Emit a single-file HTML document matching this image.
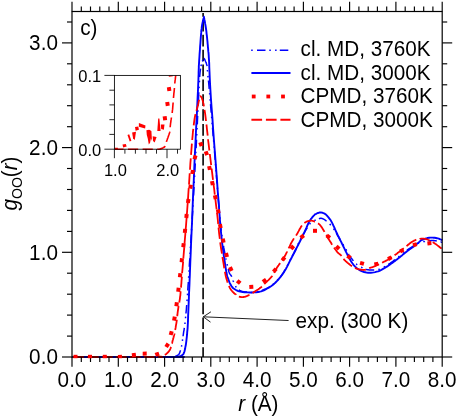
<!DOCTYPE html>
<html><head><meta charset="utf-8"><title>g_OO(r)</title>
<style>html,body{margin:0;padding:0;background:#fff;}body{width:457px;height:417px;overflow:hidden;position:relative;font-family:"Liberation Sans",sans-serif;}</style>
</head><body>
<svg width="457" height="417" viewBox="0 0 457 417" style="position:absolute;left:0;top:0;will-change:transform;opacity:0.999">
<defs><clipPath id="pc"><rect x="71.0" y="11.5" width="372.2" height="346.7"/></clipPath>
<clipPath id="ic"><rect x="114.4" y="75.4" width="66.0" height="74.8"/></clipPath></defs>
<rect width="457" height="417" fill="#fff"/>
<g clip-path="url(#pc)" fill="none" stroke-linejoin="round">
<line x1="203.1" y1="12.9" x2="203.1" y2="357.0" stroke="#000" stroke-width="1.6" stroke-dasharray="11.6 3.275" stroke-dashoffset="7.8"/>
<path d="M72.4,357.0 L79.4,357.0 M83.2,357.0 L84.7,357.0 M89.0,357.0 L90.5,357.0 M93.7,357.0 L102.2,357.0 M106.0,357.0 L106.3,357.0 L107.5,357.0 M111.8,357.0 L113.3,357.0 M116.5,357.0 L121.5,357.0 L125.0,357.0 M128.8,357.0 L130.3,357.0 M134.6,357.0 L136.1,357.0 M139.3,357.0 L147.8,357.0 M151.6,357.0 L153.1,357.0 M157.4,357.0 L158.9,357.0 M162.1,357.0 L162.6,357.0 L170.6,357.0 M174.4,357.0 L175.9,357.0 M178.4,356.9 L177.4,356.8 L176.9,356.8 M175.3,356.4 L175.3,356.4 L175.7,356.2 L176.1,356.1 L176.5,355.9 L176.8,355.7 L177.2,355.5 L177.5,355.3 L177.8,355.1 L178.1,355.0 L178.3,354.8 L178.6,354.6 L178.8,354.4 L179.0,354.1 L179.3,353.7 L179.5,353.2 L179.8,352.6 L180.0,351.8 L180.3,351.0 L180.5,350.3 M181.5,346.6 L181.6,346.0 L181.8,345.2 M182.4,340.9 L182.5,340.0 L182.6,339.4 M183.1,336.3 L183.1,336.0 L183.3,334.6 L183.5,333.2 L183.7,331.7 L184.0,330.3 L184.2,328.8 L184.3,327.9 M184.9,324.0 L185.0,323.2 L185.0,322.5 M185.5,318.2 L185.6,317.2 L185.7,316.7 M186.0,313.4 L186.0,312.8 L186.2,311.0 L186.4,309.1 L186.5,307.2 L186.7,305.3 L186.7,304.9 M187.0,301.1 L187.1,300.0 L187.1,299.6 M187.5,295.2 L187.5,294.3 L187.6,293.7 M187.8,290.5 L187.8,290.0 L187.9,288.3 L188.0,286.6 L188.1,285.0 L188.3,283.1 L188.3,282.0 M188.6,277.8 L188.7,276.3 M189.0,271.8 L189.1,270.3 M189.3,266.7 L189.4,264.4 L189.8,258.3 M190.1,254.1 L190.2,252.6 M190.4,248.1 L190.5,246.6 M190.7,243.0 L190.8,242.5 L191.3,234.5 M191.5,230.4 L191.6,228.9 M191.9,224.4 L191.9,222.9 M192.2,219.3 L192.2,217.8 L192.7,210.8 M192.9,206.7 L193.0,205.2 M193.2,200.7 L193.3,199.2 M193.5,195.6 L193.6,195.0 L194.0,187.5 L194.0,187.1 M194.2,183.0 L194.3,181.5 M194.6,176.9 L194.6,175.4 M194.8,171.9 L195.2,165.0 L195.3,163.4 M195.5,159.2 L195.6,157.8 M195.8,153.2 L195.9,151.7 M196.1,148.1 L196.4,142.1 L196.5,139.7 M196.7,135.5 L196.8,134.0 M197.0,129.5 L197.1,128.0 M197.3,124.4 L197.6,116.8 L197.7,115.9 M197.9,111.8 L197.9,110.3 M198.1,105.8 L198.2,104.3 M198.4,100.7 L198.7,95.0 L198.8,92.2 M199.0,88.1 L199.1,86.6 M199.4,82.2 L199.4,82.0 L199.5,80.9 L199.5,80.7 M199.7,77.1 L199.7,76.4 L199.8,75.2 L199.9,74.1 L200.0,73.0 L200.1,71.9 L200.3,70.8 L200.4,69.7 L200.6,68.6 M201.0,66.1 L201.1,65.6 L201.3,64.7 L201.3,64.6 M202.3,61.3 L202.4,61.1 L202.6,60.5 L202.8,60.0 L202.9,59.9 M203.8,58.4 L203.9,58.4 L204.0,58.5 L204.2,58.7 L204.4,58.9 L204.6,59.3 L204.8,59.7 L205.0,60.1 L205.2,60.6 L205.4,61.0 L205.6,61.5 L205.8,62.0 L206.0,62.4 L206.2,62.9 L206.4,63.4 L206.5,63.9 L206.7,64.5 L206.9,65.0 L207.0,65.6 L207.1,66.1 M207.4,70.0 L207.4,70.2 L207.5,70.9 L207.6,71.5 M207.9,75.9 L207.9,75.9 L208.0,76.6 L208.1,77.3 L208.1,77.3 M208.5,80.6 L208.5,81.2 L208.6,82.0 L208.7,82.5 L208.7,82.6 L208.7,82.5 L208.7,82.6 L208.7,83.1 L208.8,84.3 L209.0,86.5 L209.2,88.9 M209.6,93.1 L209.7,94.5 M210.1,99.1 L210.2,100.6 M210.5,104.1 L210.9,108.7 L211.2,112.6 M211.6,116.7 L211.6,116.8 L211.7,118.2 M212.1,122.7 L212.2,124.2 M212.5,127.8 L213.0,133.8 L213.2,136.2 M213.6,140.3 L213.7,141.8 M214.1,146.4 L214.2,147.8 M214.5,151.4 L215.0,157.7 L215.2,159.9 M215.5,164.0 L215.6,165.5 M216.0,170.0 L216.1,171.5 M216.4,175.1 L216.9,181.9 L217.0,183.5 M217.4,187.6 L217.5,189.1 M217.8,193.7 L218.0,195.2 M218.2,198.7 L218.7,203.9 L219.0,207.2 M219.3,211.3 L219.5,212.8 M219.9,217.3 L220.0,218.8 M220.3,222.3 L220.4,223.5 L220.8,226.9 L221.1,230.1 L221.2,230.8 M221.8,234.9 L222.0,236.4 M222.6,240.9 L222.9,242.3 M223.5,245.9 L223.8,247.9 L224.6,252.0 L225.0,254.2 M225.8,258.3 L226.1,259.7 M227.1,264.2 L227.4,265.6 M228.2,269.1 L228.3,269.4 L228.8,271.4 L229.3,272.8 L229.8,273.8 L230.2,274.4 L230.6,274.9 L230.9,275.4 L231.3,275.8 L231.6,276.5 L231.7,276.8 M233.1,280.6 L233.1,280.7 L233.3,281.3 L233.6,282.0 L233.6,282.0 M235.5,286.1 L235.8,286.7 L236.2,287.2 L236.3,287.4 M238.8,289.9 L239.0,290.0 L239.5,290.3 L240.0,290.6 L240.5,290.8 L241.0,291.0 L241.5,291.2 L242.1,291.4 L242.7,291.5 L243.3,291.7 L244.0,291.8 L244.8,291.9 L245.6,292.0 L246.4,292.1 L246.9,292.2 M251.0,292.4 L251.8,292.4 L252.5,292.4 M257.0,292.0 L258.0,291.7 L258.4,291.6 M261.8,290.4 L262.0,290.4 L263.5,289.8 L264.9,289.2 L266.3,288.6 L267.6,288.0 L268.8,287.4 L269.6,287.0 M272.9,284.6 L272.9,284.6 L273.6,283.9 L274.0,283.6 M277.2,280.4 L277.3,280.2 L278.1,279.4 L278.2,279.3 M280.5,276.6 L281.0,276.0 L281.6,275.2 L282.2,274.4 L282.7,273.6 L283.2,272.9 L283.7,272.1 L284.2,271.3 L284.7,270.5 L285.2,269.6 L285.2,269.5 M287.2,265.9 L287.5,265.3 L287.9,264.6 M289.9,260.6 L290.6,259.2 L290.6,259.2 M292.3,256.1 L293.1,254.5 L294.0,252.8 L294.8,251.2 L295.6,249.6 L296.1,248.5 M297.9,244.8 L298.5,243.4 M300.4,239.3 L300.8,238.6 L301.1,238.0 M302.8,234.9 L303.1,234.4 L303.9,233.1 L304.7,231.8 L305.5,230.5 L306.2,229.4 L306.9,228.3 L307.3,227.7 M309.5,224.2 L309.8,223.9 L310.2,223.5 L310.6,223.2 M314.3,220.7 L314.6,220.5 L315.2,220.2 L315.7,220.0 M318.9,218.7 L319.5,218.5 L320.0,218.4 L320.5,218.3 L320.9,218.3 L321.3,218.3 L321.6,218.4 L321.9,218.4 L322.3,218.5 L322.6,218.7 L323.0,218.8 L323.4,219.0 L323.7,219.1 L324.1,219.4 L324.5,219.6 L324.9,219.8 L325.2,220.1 L325.7,220.5 L326.1,220.8 L326.6,221.2 L326.6,221.2 M329.7,224.0 L329.8,224.1 L330.3,224.6 L330.8,225.1 L330.8,225.1 M333.6,228.7 L333.8,229.0 L334.3,229.8 L334.4,230.0 M336.3,233.1 L336.8,234.0 L337.4,235.1 L338.0,236.1 L338.5,237.0 L339.0,237.8 L339.4,238.6 L339.9,239.4 L340.3,240.1 L340.5,240.5 M342.7,244.1 L343.0,244.5 L343.5,245.3 L343.5,245.4 M346.0,249.3 L346.3,250.0 L346.7,250.6 M348.4,253.9 L348.7,254.5 L349.1,255.2 L349.5,255.8 L349.9,256.4 L350.3,257.0 L350.7,257.5 L351.1,258.0 L351.5,258.5 L352.0,259.1 L352.4,259.6 L352.9,260.2 L353.3,260.7 L353.3,260.8 M356.1,263.9 L356.3,264.0 L356.9,264.5 L357.3,264.8 M361.1,267.3 L361.2,267.3 L361.9,267.6 L362.5,268.0 M365.8,269.4 L366.0,269.4 L366.7,269.6 L367.5,269.7 L368.3,269.8 L369.1,269.9 L369.9,269.9 L370.8,269.9 L371.6,269.9 L372.4,269.9 L373.2,269.9 L373.9,269.9 L374.2,269.9 M378.3,269.6 L378.7,269.5 L379.5,269.2 L379.8,269.1 M383.8,267.1 L384.2,266.9 L385.1,266.5 L385.1,266.4 M388.2,264.6 L388.5,264.4 L389.1,263.9 L389.7,263.5 L390.3,263.1 L391.0,262.6 L391.7,262.1 L392.4,261.6 L393.2,261.0 L393.9,260.4 L394.7,259.9 L395.1,259.6 M398.3,257.1 L398.8,256.7 L399.5,256.2 L399.5,256.2 M403.0,253.4 L403.4,253.1 L404.1,252.5 L404.2,252.4 M407.0,250.2 L407.1,250.1 L407.8,249.6 L408.5,249.1 L409.3,248.6 L410.1,248.1 L410.9,247.6 L411.6,247.1 L412.4,246.7 L413.1,246.2 L413.8,245.8 L414.1,245.6 M417.7,243.5 L418.2,243.3 L418.8,243.0 L419.0,242.9 M423.4,241.8 L423.5,241.7 L424.1,241.6 L424.7,241.5 L424.9,241.4 M428.4,240.8 L428.5,240.8 L429.1,240.7 L429.6,240.7 L430.2,240.7 L430.8,240.6 L431.3,240.6 L431.9,240.6 L432.5,240.6 L433.0,240.6 L433.5,240.6 L434.0,240.6 L434.5,240.7 L434.9,240.7 L435.4,240.8 L435.9,240.8 L436.4,240.9 L436.8,241.0 M440.5,241.9 L440.6,241.9 L441.3,242.1 L441.9,242.3 L442.0,242.3" stroke="#00f" stroke-width="1.5"/>
<path d="M72.4,357.0 L84.8,357.0 L102.8,357.0 L123.8,357.0 L144.7,357.0 L162.9,357.0 L175.5,357.0 L181.8,357.0 L184.0,357.0 L183.4,356.9 L181.4,356.9 L179.3,356.8 L178.7,356.7 L179.2,356.6 L179.7,356.4 L180.2,356.3 L180.6,356.1 L181.1,355.9 L181.5,355.6 L181.9,355.3 L182.3,355.1 L182.7,354.8 L183.1,354.4 L183.5,353.9 L183.8,353.2 L184.1,352.3 L184.5,351.3 L184.8,350.1 L185.1,348.8 L185.3,347.4 L185.6,346.0 L185.9,344.5 L186.1,342.9 L186.3,341.3 L186.5,339.5 L186.7,337.8 L186.9,336.0 L187.1,334.2 L187.2,332.2 L187.4,330.3 L187.6,328.3 L187.7,326.4 L187.8,324.5 L187.9,322.8 L188.0,321.2 L188.0,319.6 L188.1,318.0 L188.1,316.3 L188.2,314.4 L188.3,312.2 L188.4,309.8 L188.5,307.2 L188.6,304.6 L188.7,302.2 L188.8,300.0 L188.9,298.2 L188.9,296.7 L189.0,295.4 L189.0,293.9 L189.1,292.2 L189.2,290.0 L189.3,287.7 L189.4,285.6 L189.5,283.1 L189.6,280.0 L189.8,275.8 L190.0,270.0 L190.3,262.3 L190.7,253.0 L191.1,242.5 L191.6,231.5 L192.1,220.5 L192.5,210.0 L192.9,200.0 L193.3,190.0 L193.8,180.0 L194.2,170.0 L194.6,160.0 L195.1,150.0 L195.6,139.5 L196.1,128.5 L196.7,117.5 L197.2,107.0 L197.6,97.7 L198.0,90.0 L198.2,84.2 L198.4,80.0 L198.5,76.9 L198.6,74.4 L198.6,72.3 L198.7,70.0 L198.8,67.9 L198.8,66.3 L198.9,65.0 L199.0,63.7 L199.1,62.1 L199.2,60.0 L199.4,57.2 L199.6,53.8 L199.9,50.2 L200.1,46.5 L200.4,43.0 L200.6,40.0 L200.8,37.4 L201.0,35.0 L201.2,32.9 L201.3,30.9 L201.6,28.9 L201.8,27.0 L202.1,25.0 L202.5,23.0 L202.9,21.1 L203.3,19.3 L203.7,17.9 L203.9,16.8 L204.1,17.9 L204.4,19.5 L204.8,21.4 L205.1,23.4 L205.5,25.5 L205.8,27.5 L206.1,29.5 L206.4,31.6 L206.6,33.8 L206.9,36.0 L207.1,38.0 L207.3,40.0 L207.5,41.8 L207.6,43.5 L207.8,45.2 L207.9,46.8 L208.1,48.4 L208.2,50.0 L208.3,51.4 L208.5,52.6 L208.6,53.8 L208.7,55.2 L208.8,57.2 L209.0,60.0 L209.2,63.5 L209.3,67.4 L209.5,71.9 L209.7,77.0 L210.0,83.0 L210.4,90.0 L210.9,98.3 L211.6,107.8 L212.4,118.1 L213.1,128.9 L213.9,139.7 L214.7,150.0 L215.5,160.3 L216.3,171.1 L217.1,181.9 L217.8,192.2 L218.6,201.7 L219.2,210.0 L219.7,216.7 L220.1,222.2 L220.5,226.9 L220.9,231.1 L221.3,235.3 L221.8,240.0 L222.4,245.2 L223.2,250.8 L223.9,256.3 L224.7,261.5 L225.4,266.2 L226.0,270.0 L226.5,272.8 L226.9,274.7 L227.2,276.0 L227.5,277.1 L227.9,278.0 L228.3,279.2 L228.8,280.5 L229.3,281.8 L229.8,283.1 L230.4,284.3 L231.0,285.3 L231.6,286.3 L232.3,287.1 L232.9,287.9 L233.7,288.5 L234.4,289.0 L235.2,289.5 L236.0,290.0 L236.8,290.4 L237.6,290.8 L238.4,291.1 L239.2,291.4 L240.2,291.6 L241.4,291.8 L242.8,292.0 L244.4,292.2 L246.1,292.3 L247.8,292.4 L249.6,292.5 L251.3,292.5 L253.0,292.4 L254.7,292.3 L256.3,292.2 L258.0,292.0 L259.6,291.7 L261.1,291.3 L262.5,290.8 L263.9,290.3 L265.2,289.7 L266.4,289.0 L267.6,288.3 L268.8,287.6 L269.9,286.9 L271.0,286.2 L272.0,285.5 L273.0,284.7 L274.0,283.9 L275.0,283.0 L276.0,282.0 L277.1,280.9 L278.1,279.8 L279.1,278.6 L280.1,277.4 L281.0,276.3 L281.8,275.2 L282.5,274.2 L283.2,273.2 L283.9,272.2 L284.5,271.1 L285.2,270.0 L285.9,268.9 L286.5,267.7 L287.1,266.6 L287.7,265.3 L288.4,264.0 L289.2,262.4 L290.1,260.6 L291.2,258.5 L292.3,256.3 L293.5,254.1 L294.6,252.0 L295.6,250.0 L296.5,248.2 L297.4,246.4 L298.3,244.7 L299.1,243.0 L299.9,241.5 L300.6,240.0 L301.3,238.7 L301.9,237.5 L302.4,236.5 L303.0,235.4 L303.5,234.2 L304.2,232.8 L304.9,231.1 L305.7,229.3 L306.6,227.3 L307.4,225.4 L308.3,223.5 L309.1,221.9 L309.9,220.5 L310.8,219.2 L311.7,218.1 L312.5,217.0 L313.3,216.1 L314.1,215.3 L314.8,214.6 L315.5,214.1 L316.2,213.8 L316.8,213.5 L317.4,213.2 L318.0,213.0 L318.6,212.8 L319.1,212.6 L319.6,212.5 L320.2,212.5 L320.7,212.5 L321.2,212.5 L321.8,212.6 L322.3,212.7 L322.9,212.9 L323.4,213.1 L324.0,213.3 L324.5,213.6 L325.0,213.9 L325.4,214.1 L325.8,214.4 L326.2,214.8 L326.7,215.3 L327.2,215.9 L327.8,216.6 L328.5,217.4 L329.2,218.3 L330.0,219.3 L330.8,220.5 L331.6,221.9 L332.5,223.6 L333.4,225.6 L334.4,227.7 L335.3,229.8 L336.2,231.8 L337.0,233.5 L337.6,234.8 L338.1,235.9 L338.6,236.7 L339.0,237.6 L339.5,238.5 L340.0,239.6 L340.6,240.8 L341.3,242.2 L341.9,243.5 L342.7,245.0 L343.4,246.5 L344.2,248.1 L345.0,249.8 L345.9,251.7 L346.9,253.7 L347.8,255.6 L348.8,257.4 L349.7,259.1 L350.6,260.6 L351.5,262.0 L352.4,263.3 L353.3,264.5 L354.2,265.7 L355.2,266.7 L356.2,267.6 L357.2,268.5 L358.3,269.3 L359.4,270.0 L360.5,270.6 L361.7,271.1 L362.9,271.6 L364.1,272.0 L365.4,272.3 L366.7,272.6 L368.0,272.7 L369.4,272.8 L370.8,272.8 L372.3,272.6 L373.7,272.4 L375.2,272.1 L376.7,271.7 L378.1,271.3 L379.5,270.8 L380.9,270.1 L382.2,269.4 L383.5,268.6 L384.8,267.9 L385.9,267.2 L386.9,266.6 L387.8,266.1 L388.6,265.5 L389.3,265.0 L390.1,264.4 L391.0,263.8 L391.9,263.1 L392.9,262.4 L393.9,261.6 L395.0,260.9 L396.0,260.1 L396.9,259.4 L397.8,258.7 L398.6,258.1 L399.5,257.4 L400.3,256.8 L401.1,256.1 L402.0,255.4 L402.9,254.6 L403.9,253.8 L404.8,253.0 L405.8,252.2 L406.8,251.4 L407.8,250.6 L408.8,249.9 L409.8,249.1 L410.9,248.4 L411.9,247.8 L412.9,247.1 L413.8,246.4 L414.7,245.7 L415.6,245.0 L416.5,244.3 L417.3,243.6 L418.1,243.0 L418.8,242.4 L419.3,241.9 L419.7,241.5 L420.1,241.2 L420.4,240.9 L420.8,240.5 L421.4,240.2 L422.2,239.8 L423.0,239.5 L424.0,239.1 L425.0,238.8 L426.0,238.4 L426.9,238.2 L427.7,238.0 L428.5,237.8 L429.3,237.7 L430.1,237.6 L430.9,237.6 L431.8,237.6 L432.8,237.6 L433.8,237.7 L434.8,237.8 L435.9,238.0 L436.9,238.2 L437.8,238.4 L438.7,238.7 L439.6,239.0 L440.4,239.4 L441.2,239.7 L441.8,240.0 L442.3,240.2" stroke="#00f" stroke-width="1.9" stroke-linejoin="round"/>
<path d="M72.9,357.0 L79.3,357.0 L83.9,357.0 M87.4,357.0 L89.1,357.0 L98.7,357.0 M102.2,357.0 L112.7,357.0 M116.2,357.0 L126.2,357.0 L126.6,357.0 M130.1,357.0 L137.9,357.0 L140.5,357.0 M144.0,357.0 L147.9,357.0 L154.4,357.0 M157.9,357.0 L159.3,357.0 L161.5,357.0 L162.3,357.0 L162.0,356.9 L161.0,356.9 L159.9,356.9 L159.1,356.8 L159.0,356.8 L159.4,356.7 L159.8,356.7 L160.2,356.6 L160.6,356.6 L160.9,356.5 L161.3,356.4 L161.6,356.3 M164.8,354.9 L165.0,354.8 L165.4,354.5 L165.8,354.3 L166.2,354.0 L166.6,353.6 L166.9,353.3 L167.3,353.0 L167.7,352.6 L168.0,352.3 L168.3,352.0 L168.6,351.7 L168.8,351.4 L169.1,351.1 L169.3,350.7 L169.6,350.4 L169.8,350.0 L170.0,349.6 L170.2,349.2 L170.4,348.8 L170.5,348.4 L170.7,348.0 L170.8,347.5 L171.0,346.9 L171.0,346.9 M171.9,343.5 L172.0,343.4 L172.3,342.2 L172.6,340.8 L173.0,339.5 L173.3,338.3 L173.6,337.2 L173.8,336.3 L174.0,335.7 L174.1,335.3 L174.2,335.0 L174.2,334.8 L174.3,334.6 L174.4,334.3 L174.5,333.9 L174.5,333.5 M175.2,330.0 L175.3,329.4 L175.6,327.9 L175.8,326.3 L176.1,324.7 L176.4,323.1 L176.6,321.6 L176.8,320.1 L176.8,319.8 M177.3,316.3 L177.3,315.7 L177.5,314.2 L177.6,312.8 L177.8,311.4 L178.0,310.0 L178.2,308.7 L178.4,307.4 L178.6,306.1 L178.7,306.0 M179.3,302.5 L179.3,302.5 L179.5,301.2 L179.7,300.0 L179.9,298.8 L180.0,297.7 L180.1,296.7 L180.3,295.6 L180.4,294.5 L180.5,293.2 L180.6,291.7 L180.7,291.2 M181.0,287.7 L181.1,286.6 L181.2,285.0 L181.4,283.1 L181.5,280.9 L181.8,278.0 L181.9,276.7 M182.1,273.2 L182.4,270.0 L182.9,264.4 L183.1,262.0 M183.3,258.5 L183.4,257.8 L184.0,250.4 L184.3,247.1 M184.5,243.7 L184.6,242.5 L185.3,234.3 L185.4,232.6 M185.7,229.1 L186.0,225.9 L186.6,217.8 L186.6,217.5 M186.9,214.0 L187.2,210.0 L187.7,202.9 M188.0,199.4 L188.3,194.3 L188.7,188.1 M189.0,184.6 L189.4,178.1 L189.7,173.3 M190.0,169.8 L190.4,162.9 L190.8,158.4 M191.0,154.9 L191.4,150.0 L191.8,144.7 L191.9,143.6 M192.2,140.1 L192.2,140.0 L192.6,135.9 L192.9,132.2 L193.3,128.8 L193.3,128.8 M193.7,125.3 L194.0,122.8 L194.4,120.0 L194.8,117.4 L195.3,115.0 L195.5,114.1 M196.4,110.7 L196.8,109.4 L197.2,107.8 L197.6,106.4 L198.0,105.0 L198.3,103.7 L198.5,102.6 L198.7,101.6 L198.9,100.7 L199.1,99.9 L199.1,99.7 M200.0,96.3 L200.1,96.2 L200.2,96.2 L200.3,96.2 L200.5,96.3 L200.7,96.4 L200.9,96.6 L201.1,96.8 L201.3,97.1 L201.6,97.5 L201.8,98.0 L202.0,98.5 L202.2,99.1 L202.4,99.6 L202.6,100.3 L202.8,101.0 L203.0,101.8 L203.2,102.7 L203.5,103.8 L203.7,105.0 L203.9,106.3 M204.5,109.8 L204.7,111.0 L205.0,112.9 L205.3,115.0 L205.6,117.3 L205.9,120.0 L206.0,121.0 M206.4,124.5 L206.6,125.7 L206.9,128.8 L207.3,132.2 L207.7,135.7 M208.1,139.2 L208.1,140.0 L208.7,144.7 L209.3,150.0 L209.4,150.5 M209.8,154.0 L210.1,156.3 L211.0,163.6 L211.2,165.2 M211.6,168.7 L212.0,171.6 L213.0,179.9 M213.4,183.4 L214.1,188.4 L214.8,194.7 M215.3,198.1 L215.9,203.7 L216.6,209.4 M217.0,212.9 L217.3,215.2 L217.8,219.6 L218.1,223.4 L218.2,224.1 M218.5,227.6 L218.8,230.1 L219.1,233.2 L219.5,236.5 L219.8,238.9 M220.2,242.4 L220.4,243.9 L221.0,248.0 L221.7,252.2 L221.9,253.6 M222.4,257.0 L223.0,260.3 L223.6,263.9 L224.1,267.2 L224.3,268.2 M224.9,271.7 L225.0,272.2 L225.3,273.9 L225.6,275.2 L225.8,276.2 L226.0,277.0 L226.2,277.8 L226.4,278.6 L226.7,279.5 L227.0,280.5 L227.3,281.6 L227.7,282.6 L227.7,282.6 M229.0,285.9 L229.1,286.1 L229.4,286.9 L229.7,287.6 L230.0,288.2 L230.3,288.7 L230.7,289.2 L231.0,289.7 L231.3,290.1 L231.6,290.5 L232.0,291.0 L232.4,291.5 L232.8,291.9 L233.2,292.3 L233.6,292.8 L234.1,293.2 L234.5,293.6 L235.0,293.9 L235.4,294.3 L235.9,294.6 L235.9,294.7 M238.9,296.5 L239.2,296.6 L239.7,296.8 L240.2,296.9 L240.8,297.0 L241.3,297.1 L241.9,297.1 L242.5,297.1 L243.0,297.1 L243.6,297.0 L244.2,296.9 L244.8,296.8 L245.4,296.6 L246.0,296.4 L246.6,296.1 L247.3,295.9 L247.9,295.6 L248.5,295.3 L249.1,295.0 L249.5,294.8 M252.5,293.0 L252.7,292.9 L253.4,292.4 L254.3,291.9 L255.2,291.2 L256.2,290.6 L257.3,289.9 L258.4,289.2 L259.4,288.5 L260.3,287.8 L261.1,287.2 L261.7,286.7 L261.9,286.5 M264.3,284.0 L264.4,283.9 L265.0,283.3 L265.7,282.6 L266.6,281.8 L267.5,280.9 L268.4,280.1 L269.4,279.1 L270.3,278.2 L271.2,277.2 L272.0,276.2 L272.3,275.8 M274.1,272.8 L274.5,272.0 L275.1,270.9 L275.7,269.8 L276.3,268.7 L277.0,267.5 L277.8,266.4 L278.6,265.3 L279.4,264.1 L280.2,263.2 M282.2,260.4 L283.1,259.1 L284.0,257.6 L285.0,255.8 L286.0,253.8 L287.1,251.7 L287.1,251.5 M288.6,248.4 L289.2,247.3 L290.2,245.2 L291.1,243.2 L292.0,241.6 L292.8,240.3 L293.5,239.1 L293.9,238.4 M295.9,235.6 L296.4,234.9 L297.0,234.0 L297.6,233.0 L298.2,231.9 L298.8,230.9 L299.3,229.8 L299.9,228.7 L300.5,227.7 L301.0,226.8 L301.6,226.0 L302.0,225.5 M304.4,223.0 L304.8,222.7 L305.4,222.3 L306.0,222.0 L306.6,221.7 L307.3,221.4 L307.9,221.2 L308.6,221.0 L309.2,220.9 L309.9,220.8 L310.6,220.7 L311.2,220.7 L311.8,220.7 L312.4,220.8 L313.0,221.0 L313.6,221.2 L314.2,221.4 L314.8,221.7 L314.9,221.7 M318.0,223.4 L318.2,223.5 L318.8,223.9 L319.4,224.4 L320.1,225.1 L320.8,226.0 L321.6,227.1 L322.5,228.5 L323.4,230.1 L324.4,231.7 L324.5,231.9 M326.2,235.0 L326.3,235.1 L327.2,236.6 L328.0,238.0 L328.7,239.2 L329.4,240.3 L330.1,241.4 L330.7,242.3 L331.3,243.3 L331.8,244.2 L332.2,244.7 M334.1,247.6 L334.2,247.8 L334.8,248.7 L335.4,249.5 L336.0,250.3 L336.6,251.1 L337.1,251.8 L337.6,252.4 L338.1,252.9 L338.5,253.3 L338.9,253.6 L339.3,253.9 L339.7,254.2 L340.1,254.5 L340.5,254.8 L340.9,255.2 L341.3,255.7 L341.5,256.0 M343.6,258.8 L343.8,259.1 L344.2,259.6 L344.6,260.1 L345.1,260.5 L345.5,261.0 L345.9,261.4 L346.4,261.8 L346.9,262.2 L347.3,262.6 L347.8,263.0 L348.3,263.4 L348.8,263.8 L349.3,264.2 L349.8,264.7 L350.4,265.1 L350.9,265.5 L351.4,265.8 L352.0,266.2 M355.0,267.9 L355.5,268.1 L356.1,268.4 L356.7,268.6 L357.3,268.8 L357.8,269.0 L358.4,269.2 L358.9,269.3 L359.4,269.4 L360.0,269.5 L360.5,269.6 L361.0,269.7 L361.5,269.8 L362.0,269.8 L362.5,269.9 L363.0,269.9 L363.4,270.0 L363.9,269.9 L364.5,269.9 L365.0,269.8 L365.6,269.7 L365.9,269.5 M369.2,268.2 L369.4,268.1 L370.0,267.9 L370.6,267.7 L371.2,267.5 L371.8,267.3 L372.4,267.1 L373.1,266.9 L373.7,266.7 L374.3,266.5 L375.0,266.2 L375.7,265.9 L376.4,265.5 L377.2,265.2 L377.9,264.8 L378.7,264.4 L379.0,264.2 M382.1,262.7 L382.5,262.5 L383.2,262.1 L384.0,261.7 L384.8,261.4 L385.5,261.0 L386.2,260.6 L387.0,260.2 L387.8,259.8 L388.5,259.3 L389.2,258.9 L390.0,258.4 L390.8,257.9 L391.5,257.4 L391.8,257.2 M394.6,255.3 L395.2,254.8 L396.0,254.3 L396.8,253.7 L397.5,253.1 L398.2,252.6 L399.0,252.0 L399.8,251.4 L400.5,250.8 L401.2,250.3 L402.0,249.7 L402.8,249.1 L403.5,248.5 L403.8,248.3 M406.5,246.1 L406.5,246.1 L407.3,245.5 L408.1,244.8 L408.8,244.2 L409.6,243.6 L410.3,243.1 L411.0,242.6 L411.7,242.1 L412.3,241.7 L412.9,241.3 L413.6,241.0 L414.2,240.6 L414.8,240.3 L415.4,240.1 L416.0,239.8 L416.3,239.7 M419.7,238.9 L419.8,238.8 L420.4,238.8 L421.0,238.7 L421.6,238.7 L422.1,238.6 L422.6,238.6 L423.2,238.6 L423.7,238.7 L424.2,238.7 L424.7,238.8 L425.3,238.9 L425.9,239.0 L426.4,239.2 L427.0,239.3 L427.5,239.5 L428.1,239.8 L428.7,240.0 L429.3,240.3 L429.6,240.4 M432.7,242.1 L432.9,242.2 L433.7,242.7 L434.4,243.2 L435.2,243.8 L436.0,244.3 L436.8,244.9 L437.7,245.6 L438.6,246.3 L439.5,247.0 L440.4,247.7 L441.2,248.3 L441.6,248.6" stroke="#f00" stroke-width="1.8"/>
</g>
<g stroke="#000" stroke-width="1.2" fill="none">
<rect x="72.0" y="11.5" width="370.2" height="345.5"/>
</g>
<g stroke="#000" stroke-width="1.15" fill="none">
<line x1="72.0" y1="357.0" x2="72.0" y2="366.8"/>
<line x1="72.0" y1="11.5" x2="72.0" y2="1.7"/>
<line x1="81.3" y1="357.0" x2="81.3" y2="362.0"/>
<line x1="81.3" y1="11.5" x2="81.3" y2="6.5"/>
<line x1="90.5" y1="357.0" x2="90.5" y2="362.0"/>
<line x1="90.5" y1="11.5" x2="90.5" y2="6.5"/>
<line x1="99.8" y1="357.0" x2="99.8" y2="362.0"/>
<line x1="99.8" y1="11.5" x2="99.8" y2="6.5"/>
<line x1="109.0" y1="357.0" x2="109.0" y2="362.0"/>
<line x1="109.0" y1="11.5" x2="109.0" y2="6.5"/>
<line x1="118.3" y1="357.0" x2="118.3" y2="366.8"/>
<line x1="118.3" y1="11.5" x2="118.3" y2="1.7"/>
<line x1="127.5" y1="357.0" x2="127.5" y2="362.0"/>
<line x1="127.5" y1="11.5" x2="127.5" y2="6.5"/>
<line x1="136.8" y1="357.0" x2="136.8" y2="362.0"/>
<line x1="136.8" y1="11.5" x2="136.8" y2="6.5"/>
<line x1="146.0" y1="357.0" x2="146.0" y2="362.0"/>
<line x1="146.0" y1="11.5" x2="146.0" y2="6.5"/>
<line x1="155.3" y1="357.0" x2="155.3" y2="362.0"/>
<line x1="155.3" y1="11.5" x2="155.3" y2="6.5"/>
<line x1="164.6" y1="357.0" x2="164.6" y2="366.8"/>
<line x1="164.6" y1="11.5" x2="164.6" y2="1.7"/>
<line x1="173.8" y1="357.0" x2="173.8" y2="362.0"/>
<line x1="173.8" y1="11.5" x2="173.8" y2="6.5"/>
<line x1="183.1" y1="357.0" x2="183.1" y2="362.0"/>
<line x1="183.1" y1="11.5" x2="183.1" y2="6.5"/>
<line x1="192.3" y1="357.0" x2="192.3" y2="362.0"/>
<line x1="192.3" y1="11.5" x2="192.3" y2="6.5"/>
<line x1="201.6" y1="357.0" x2="201.6" y2="362.0"/>
<line x1="201.6" y1="11.5" x2="201.6" y2="6.5"/>
<line x1="210.8" y1="357.0" x2="210.8" y2="366.8"/>
<line x1="210.8" y1="11.5" x2="210.8" y2="1.7"/>
<line x1="220.1" y1="357.0" x2="220.1" y2="362.0"/>
<line x1="220.1" y1="11.5" x2="220.1" y2="6.5"/>
<line x1="229.3" y1="357.0" x2="229.3" y2="362.0"/>
<line x1="229.3" y1="11.5" x2="229.3" y2="6.5"/>
<line x1="238.6" y1="357.0" x2="238.6" y2="362.0"/>
<line x1="238.6" y1="11.5" x2="238.6" y2="6.5"/>
<line x1="247.8" y1="357.0" x2="247.8" y2="362.0"/>
<line x1="247.8" y1="11.5" x2="247.8" y2="6.5"/>
<line x1="257.1" y1="357.0" x2="257.1" y2="366.8"/>
<line x1="257.1" y1="11.5" x2="257.1" y2="1.7"/>
<line x1="266.4" y1="357.0" x2="266.4" y2="362.0"/>
<line x1="266.4" y1="11.5" x2="266.4" y2="6.5"/>
<line x1="275.6" y1="357.0" x2="275.6" y2="362.0"/>
<line x1="275.6" y1="11.5" x2="275.6" y2="6.5"/>
<line x1="284.9" y1="357.0" x2="284.9" y2="362.0"/>
<line x1="284.9" y1="11.5" x2="284.9" y2="6.5"/>
<line x1="294.1" y1="357.0" x2="294.1" y2="362.0"/>
<line x1="294.1" y1="11.5" x2="294.1" y2="6.5"/>
<line x1="303.4" y1="357.0" x2="303.4" y2="366.8"/>
<line x1="303.4" y1="11.5" x2="303.4" y2="1.7"/>
<line x1="312.6" y1="357.0" x2="312.6" y2="362.0"/>
<line x1="312.6" y1="11.5" x2="312.6" y2="6.5"/>
<line x1="321.9" y1="357.0" x2="321.9" y2="362.0"/>
<line x1="321.9" y1="11.5" x2="321.9" y2="6.5"/>
<line x1="331.1" y1="357.0" x2="331.1" y2="362.0"/>
<line x1="331.1" y1="11.5" x2="331.1" y2="6.5"/>
<line x1="340.4" y1="357.0" x2="340.4" y2="362.0"/>
<line x1="340.4" y1="11.5" x2="340.4" y2="6.5"/>
<line x1="349.6" y1="357.0" x2="349.6" y2="366.8"/>
<line x1="349.6" y1="11.5" x2="349.6" y2="1.7"/>
<line x1="358.9" y1="357.0" x2="358.9" y2="362.0"/>
<line x1="358.9" y1="11.5" x2="358.9" y2="6.5"/>
<line x1="368.2" y1="357.0" x2="368.2" y2="362.0"/>
<line x1="368.2" y1="11.5" x2="368.2" y2="6.5"/>
<line x1="377.4" y1="357.0" x2="377.4" y2="362.0"/>
<line x1="377.4" y1="11.5" x2="377.4" y2="6.5"/>
<line x1="386.7" y1="357.0" x2="386.7" y2="362.0"/>
<line x1="386.7" y1="11.5" x2="386.7" y2="6.5"/>
<line x1="395.9" y1="357.0" x2="395.9" y2="366.8"/>
<line x1="395.9" y1="11.5" x2="395.9" y2="1.7"/>
<line x1="405.2" y1="357.0" x2="405.2" y2="362.0"/>
<line x1="405.2" y1="11.5" x2="405.2" y2="6.5"/>
<line x1="414.4" y1="357.0" x2="414.4" y2="362.0"/>
<line x1="414.4" y1="11.5" x2="414.4" y2="6.5"/>
<line x1="423.7" y1="357.0" x2="423.7" y2="362.0"/>
<line x1="423.7" y1="11.5" x2="423.7" y2="6.5"/>
<line x1="432.9" y1="357.0" x2="432.9" y2="362.0"/>
<line x1="432.9" y1="11.5" x2="432.9" y2="6.5"/>
<line x1="442.2" y1="357.0" x2="442.2" y2="366.8"/>
<line x1="442.2" y1="11.5" x2="442.2" y2="1.7"/>
<line x1="72.0" y1="357.0" x2="62.0" y2="357.0"/>
<line x1="442.2" y1="357.0" x2="452.2" y2="357.0"/>
<line x1="72.0" y1="336.1" x2="67.0" y2="336.1"/>
<line x1="442.2" y1="336.1" x2="447.2" y2="336.1"/>
<line x1="72.0" y1="315.1" x2="67.0" y2="315.1"/>
<line x1="442.2" y1="315.1" x2="447.2" y2="315.1"/>
<line x1="72.0" y1="294.2" x2="67.0" y2="294.2"/>
<line x1="442.2" y1="294.2" x2="447.2" y2="294.2"/>
<line x1="72.0" y1="273.2" x2="67.0" y2="273.2"/>
<line x1="442.2" y1="273.2" x2="447.2" y2="273.2"/>
<line x1="72.0" y1="252.3" x2="62.0" y2="252.3"/>
<line x1="442.2" y1="252.3" x2="452.2" y2="252.3"/>
<line x1="72.0" y1="231.4" x2="67.0" y2="231.4"/>
<line x1="442.2" y1="231.4" x2="447.2" y2="231.4"/>
<line x1="72.0" y1="210.4" x2="67.0" y2="210.4"/>
<line x1="442.2" y1="210.4" x2="447.2" y2="210.4"/>
<line x1="72.0" y1="189.5" x2="67.0" y2="189.5"/>
<line x1="442.2" y1="189.5" x2="447.2" y2="189.5"/>
<line x1="72.0" y1="168.5" x2="67.0" y2="168.5"/>
<line x1="442.2" y1="168.5" x2="447.2" y2="168.5"/>
<line x1="72.0" y1="147.6" x2="62.0" y2="147.6"/>
<line x1="442.2" y1="147.6" x2="452.2" y2="147.6"/>
<line x1="72.0" y1="126.7" x2="67.0" y2="126.7"/>
<line x1="442.2" y1="126.7" x2="447.2" y2="126.7"/>
<line x1="72.0" y1="105.7" x2="67.0" y2="105.7"/>
<line x1="442.2" y1="105.7" x2="447.2" y2="105.7"/>
<line x1="72.0" y1="84.8" x2="67.0" y2="84.8"/>
<line x1="442.2" y1="84.8" x2="447.2" y2="84.8"/>
<line x1="72.0" y1="63.8" x2="67.0" y2="63.8"/>
<line x1="442.2" y1="63.8" x2="447.2" y2="63.8"/>
<line x1="72.0" y1="42.9" x2="62.0" y2="42.9"/>
<line x1="442.2" y1="42.9" x2="452.2" y2="42.9"/>
<line x1="72.0" y1="22.0" x2="67.0" y2="22.0"/>
<line x1="442.2" y1="22.0" x2="447.2" y2="22.0"/>
</g>
<g fill="#f00" clip-path="url(#pc)"><rect x="73.5" y="354.8" width="4.0" height="4.0" transform="rotate(0 75.5 356.8)"/>
<rect x="88.0" y="354.8" width="4.0" height="4.0" transform="rotate(0 90.0 356.8)"/>
<rect x="102.8" y="354.8" width="4.0" height="4.0" transform="rotate(0 104.8 356.8)"/>
<rect x="118.0" y="354.8" width="4.0" height="4.0" transform="rotate(-4 120.0 356.8)"/>
<rect x="131.9" y="352.9" width="4.0" height="4.0" transform="rotate(-7 133.9 354.9)"/>
<rect x="142.7" y="351.6" width="4.0" height="4.0" transform="rotate(-1 144.7 353.6)"/>
<rect x="155.2" y="352.3" width="4.0" height="4.0" transform="rotate(-20 157.2 354.3)"/>
<rect x="165.2" y="343.3" width="4.0" height="4.0" transform="rotate(-57 167.2 345.3)"/>
<rect x="169.2" y="331.1" width="4.0" height="4.0" transform="rotate(-75 171.2 333.1)"/>
<rect x="172.4" y="316.7" width="4.0" height="4.0" transform="rotate(-79 174.4 318.7)"/>
<rect x="174.6" y="302.2" width="4.0" height="4.0" transform="rotate(-82 176.6 304.2)"/>
<rect x="176.4" y="287.7" width="4.0" height="4.0" transform="rotate(-83 178.4 289.7)"/>
<rect x="178.1" y="273.2" width="4.0" height="4.0" transform="rotate(-83 180.1 275.2)"/>
<rect x="179.8" y="258.2" width="4.0" height="4.0" transform="rotate(-84 181.8 260.2)"/>
<rect x="181.5" y="243.3" width="4.0" height="4.0" transform="rotate(-84 183.5 245.3)"/>
<rect x="183.0" y="228.9" width="4.0" height="4.0" transform="rotate(-84 185.0 230.9)"/>
<rect x="184.5" y="214.0" width="4.0" height="4.0" transform="rotate(-84 186.5 216.0)"/>
<rect x="186.2" y="199.0" width="4.0" height="4.0" transform="rotate(-82 188.2 201.0)"/>
<rect x="188.5" y="184.7" width="4.0" height="4.0" transform="rotate(-81 190.5 186.7)"/>
<rect x="190.6" y="170.0" width="4.0" height="4.0" transform="rotate(-81 192.6 172.0)"/>
<rect x="193.0" y="155.3" width="4.0" height="4.0" transform="rotate(-73 195.0 157.3)"/>
<rect x="198.9" y="142.2" width="4.0" height="4.0" transform="rotate(-20 200.9 144.2)"/>
<rect x="204.4" y="151.2" width="4.0" height="4.0" transform="rotate(70 206.4 153.2)"/>
<rect x="207.5" y="166.0" width="4.0" height="4.0" transform="rotate(79 209.5 168.0)"/>
<rect x="210.4" y="181.1" width="4.0" height="4.0" transform="rotate(79 212.4 183.1)"/>
<rect x="213.3" y="195.2" width="4.0" height="4.0" transform="rotate(78 215.3 197.2)"/>
<rect x="216.2" y="209.4" width="4.0" height="4.0" transform="rotate(80 218.2 211.4)"/>
<rect x="218.3" y="224.1" width="4.0" height="4.0" transform="rotate(80 220.3 226.1)"/>
<rect x="221.2" y="238.6" width="4.0" height="4.0" transform="rotate(78 223.2 240.6)"/>
<rect x="224.5" y="253.0" width="4.0" height="4.0" transform="rotate(75 226.5 255.0)"/>
<rect x="228.8" y="267.0" width="4.0" height="4.0" transform="rotate(66 230.8 269.0)"/>
<rect x="236.7" y="280.0" width="4.0" height="4.0" transform="rotate(41 238.7 282.0)"/>
<rect x="249.3" y="284.8" width="4.0" height="4.0" transform="rotate(-3 251.3 286.8)"/>
<rect x="262.5" y="278.8" width="4.0" height="4.0" transform="rotate(-35 264.5 280.8)"/>
<rect x="272.8" y="268.2" width="4.0" height="4.0" transform="rotate(-49 274.8 270.2)"/>
<rect x="281.5" y="256.8" width="4.0" height="4.0" transform="rotate(-52 283.5 258.8)"/>
<rect x="290.3" y="245.4" width="4.0" height="4.0" transform="rotate(-50 292.3 247.4)"/>
<rect x="300.2" y="234.6" width="4.0" height="4.0" transform="rotate(-36 302.2 236.6)"/>
<rect x="313.0" y="228.8" width="4.0" height="4.0" transform="rotate(0 315.0 230.8)"/>
<rect x="326.3" y="234.6" width="4.0" height="4.0" transform="rotate(37 328.3 236.6)"/>
<rect x="335.7" y="245.6" width="4.0" height="4.0" transform="rotate(44 337.7 247.6)"/>
<rect x="347.0" y="254.9" width="4.0" height="4.0" transform="rotate(33 349.0 256.9)"/>
<rect x="360.0" y="261.4" width="4.0" height="4.0" transform="rotate(15 362.0 263.4)"/>
<rect x="374.3" y="262.0" width="4.0" height="4.0" transform="rotate(-11 376.3 264.0)"/>
<rect x="387.8" y="256.2" width="4.0" height="4.0" transform="rotate(-28 389.8 258.2)"/>
<rect x="399.8" y="248.6" width="4.0" height="4.0" transform="rotate(-28 401.8 250.6)"/>
<rect x="412.9" y="242.7" width="4.0" height="4.0" transform="rotate(-15 414.9 244.7)"/>
<rect x="427.4" y="241.3" width="4.0" height="4.0" transform="rotate(-6 429.4 243.3)"/></g>
<g clip-path="url(#ic)" fill="none">
<path d="M114.4,149.2 L117.9,149.2 L122.8,149.2 L123.6,149.2 M128.0,149.2 L128.6,149.2 L135.0,149.2 L138.2,149.2 M142.6,149.2 L147.3,149.2 L152.3,149.2 L152.8,149.2 M157.2,149.2 L158.3,149.2 L159.6,149.2 L160.3,149.2 L160.4,149.2 L160.2,149.2 L159.9,149.1 L159.7,149.1 L159.9,149.0 L160.3,148.9 L160.8,148.8 L161.2,148.6 L161.6,148.5 L161.9,148.3 L162.3,148.2 L162.7,148.0 L163.0,147.8 L163.3,147.6 L163.6,147.5 L163.9,147.3 L164.2,147.2 L164.5,147.0 L164.7,146.7 L165.0,146.5 L165.2,146.1 M166.4,141.9 L166.5,141.5 L166.7,140.9 L166.9,140.3 L167.2,139.6 L167.4,139.0 L167.6,138.4 L167.9,137.7 L168.1,137.1 L168.3,136.5 L168.5,135.9 L168.7,135.3 L168.9,134.8 L169.1,134.2 L169.3,133.6 L169.5,133.0 L169.7,132.4 L169.8,131.7 L169.8,131.7 M170.2,127.3 L170.2,126.8 L170.3,125.9 L170.4,125.0 L170.5,124.1 L170.6,123.1 L170.8,122.1 L170.9,121.1 L171.0,120.1 L171.2,119.2 L171.3,118.3 L171.4,117.5 L171.4,117.4 M172.2,113.0 L172.2,112.9 L172.3,111.9 L172.4,110.7 L172.6,109.4 L172.7,108.0 L172.8,106.6 L172.9,105.3 L173.0,104.1 L173.1,103.0 L173.1,102.5 M173.5,98.1 L173.5,97.7 L173.6,96.7 L173.7,95.6 L173.8,94.4 L173.9,93.1 L174.1,91.8 L174.2,90.6 L174.3,89.5 L174.4,88.5 L174.4,88.0 M174.8,83.6 L174.8,83.2 L174.9,82.3 L175.0,81.3 L175.1,80.3 L175.3,79.2 L175.4,78.2 L175.5,77.2 L175.6,76.3 L175.7,75.5 L175.8,74.8 L175.8,74.2 L175.9,73.7 L175.9,73.5" stroke="#f00" stroke-width="1.6"/>
</g>
<g fill="#f00" clip-path="url(#ic)">
<polygon points="114.4,147.7 117.9,147.7 117.9,149.4 114.4,149.4"/>
<polygon points="122.5,144.4 125.8,143.9 126.7,146.5 123.2,147.4"/>
<polygon points="127.5,134.9 129.2,134.2 131.4,140.7 129.7,141.5"/>
<polygon points="132.1,132.6 136.0,131.7 134.8,139.9 133.1,138.4"/>
<polygon points="135.0,127.1 138.3,126.4 138.9,129.7 135.6,130.7"/>
<polygon points="138.9,123.1 145.5,125.5 145.1,128.4 138.9,126.8"/>
<polygon points="146.4,130.3 149.2,129.7 151.4,131.0 152.0,140.9 150.9,138.2 150.1,142.8 148.8,144.4 147.7,138.2 146.8,134.9"/>
<polygon points="152.7,136.3 156.6,136.9 154.7,142.6 153.0,140.9"/>
<polygon points="158.2,118.5 159.4,118.5 160.6,131.0 157.3,131.0"/>
<polygon points="160.8,124.4 164.5,124.4 163.9,129.7 161.2,129.0"/>
<rect x="162.9" y="116.2" width="4" height="4" transform="rotate(-8 164.9 118.2)"/>
<rect x="165.5" y="101.9" width="4" height="4" transform="rotate(-8 167.5 103.9)"/>
<rect x="167.1" y="87.1" width="4" height="4" transform="rotate(-8 169.1 89.1)"/>
<rect x="168.6" y="72.6" width="4" height="4" transform="rotate(-8 170.6 74.6)"/>
</g>
<g stroke="#000" stroke-width="0.85" fill="none">
<rect x="114.4" y="75.4" width="66.0" height="73.8"/>
<line x1="114.4" y1="149.2" x2="104.4" y2="149.2"/>
<line x1="114.4" y1="134.4" x2="109.4" y2="134.4"/>
<line x1="114.4" y1="119.7" x2="109.4" y2="119.7"/>
<line x1="114.4" y1="104.9" x2="109.4" y2="104.9"/>
<line x1="114.4" y1="90.2" x2="109.4" y2="90.2"/>
<line x1="114.4" y1="75.4" x2="104.4" y2="75.4"/>
<line x1="114.4" y1="149.2" x2="114.4" y2="158.2"/>
<line x1="124.9" y1="149.2" x2="124.9" y2="153.7"/>
<line x1="135.4" y1="149.2" x2="135.4" y2="153.7"/>
<line x1="146.0" y1="149.2" x2="146.0" y2="153.7"/>
<line x1="156.5" y1="149.2" x2="156.5" y2="153.7"/>
<line x1="167.0" y1="149.2" x2="167.0" y2="158.2"/>
<line x1="177.5" y1="149.2" x2="177.5" y2="153.7"/>
</g>
<g fill="none">
<path d="M251.2,50.2 H290.5" stroke="#00f" stroke-width="1.5" stroke-dasharray="1.5 4.3 8.5 3.8 1.5 4.3 1.5 3.2 8.5 3.8"/>
<path d="M251.4,73 H290.5" stroke="#00f" stroke-width="2"/>
<path d="M251.4,119.7 H290.5" stroke="#f00" stroke-width="2" stroke-dasharray="10.7 3.8"/>
</g>
<g fill="#f00">
<rect x="251.8" y="94.6" width="3.8" height="3.8"/>
<rect x="266.4" y="94.6" width="3.8" height="3.8"/>
<rect x="281.1" y="94.6" width="3.8" height="3.8"/>
</g>
<g stroke="#222" stroke-width="1" fill="none" stroke-linecap="round">
<path d="M288.2,320.5 L203.4,316.8"/>
<path d="M210.6,312 L203.3,316.8 L210.2,321.9"/>
</g>
<g font-family="Liberation Sans, sans-serif" fill="#000">
<text transform="translate(57.9,364.4) scale(1,1.040)" text-anchor="end" font-size="20.7px">0.0</text>
<text transform="translate(57.9,259.7) scale(1,1.040)" text-anchor="end" font-size="20.7px">1.0</text>
<text transform="translate(57.9,155.0) scale(1,1.040)" text-anchor="end" font-size="20.7px">2.0</text>
<text transform="translate(57.9,50.3) scale(1,1.040)" text-anchor="end" font-size="20.7px">3.0</text>
<text transform="translate(72.0,386.8) scale(1,1.040)" text-anchor="middle" font-size="20.7px">0.0</text>
<text transform="translate(118.3,386.8) scale(1,1.040)" text-anchor="middle" font-size="20.7px">1.0</text>
<text transform="translate(164.6,386.8) scale(1,1.040)" text-anchor="middle" font-size="20.7px">2.0</text>
<text transform="translate(210.8,386.8) scale(1,1.040)" text-anchor="middle" font-size="20.7px">3.0</text>
<text transform="translate(257.1,386.8) scale(1,1.040)" text-anchor="middle" font-size="20.7px">4.0</text>
<text transform="translate(303.4,386.8) scale(1,1.040)" text-anchor="middle" font-size="20.7px">5.0</text>
<text transform="translate(349.6,386.8) scale(1,1.040)" text-anchor="middle" font-size="20.7px">6.0</text>
<text transform="translate(395.9,386.8) scale(1,1.040)" text-anchor="middle" font-size="20.7px">7.0</text>
<text transform="translate(442.2,386.8) scale(1,1.040)" text-anchor="middle" font-size="20.7px">8.0</text>
<text transform="translate(258.4,410.8) scale(1,1.040)" text-anchor="middle" font-size="20.7px"><tspan font-style="italic">r</tspan> (Å)</text>
<text transform="translate(80.2,35.2) scale(1,1.040)" text-anchor="start" font-size="20.7px">c)</text>
<text transform="translate(300.6,56.4) scale(1,1.040)" text-anchor="start" font-size="20.7px">cl. MD, 3760K</text>
<text transform="translate(300.6,79.8) scale(1,1.040)" text-anchor="start" font-size="20.7px">cl. MD, 3000K</text>
<text transform="translate(300.6,103.1) scale(1,1.040)" text-anchor="start" font-size="20.7px">CPMD, 3760K</text>
<text transform="translate(300.6,126.5) scale(1,1.040)" text-anchor="start" font-size="20.7px">CPMD, 3000K</text>
<text transform="translate(295.6,328.4) scale(1,1.040)" text-anchor="start" font-size="20.7px">exp. (300 K)</text>
<text transform="translate(17,210.5) rotate(-90) scale(1,1.040)" font-size="20.7px"><tspan font-style="italic">g</tspan><tspan font-size="14px" dy="4.5">OO</tspan><tspan dy="-4.5">(</tspan><tspan font-style="italic">r</tspan>)</text>
<text transform="translate(101.2,81.7) scale(1,1.040)" text-anchor="end" font-size="16.5px">0.1</text>
<text transform="translate(101.2,155.5) scale(1,1.040)" text-anchor="end" font-size="16.5px">0.0</text>
<text transform="translate(115.4,176.2) scale(1,1.040)" text-anchor="middle" font-size="16.5px">1.0</text>
<text transform="translate(167.8,176.2) scale(1,1.040)" text-anchor="middle" font-size="16.5px">2.0</text>
</g>
</svg>
</body></html>
